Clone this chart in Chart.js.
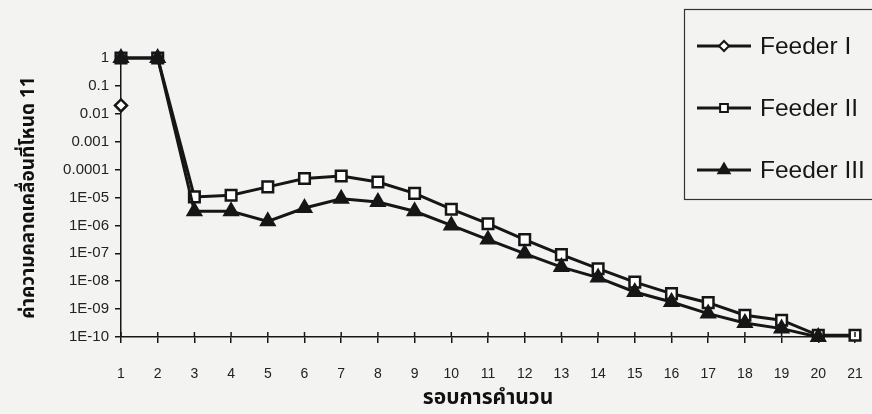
<!DOCTYPE html>
<html>
<head>
<meta charset="utf-8">
<script src="https://cdn.jsdelivr.net/npm/chart.js@4/dist/chart.umd.min.js"></script>
<style>
    html, body { margin: 0; padding: 0; background: #f3f3f1; }
    #wrap { position: relative; width: 872px; height: 414px; }
</style>
</head>
<body>
<div id="wrap"><canvas id="errChart" width="872" height="414"></canvas></div>
<script>
// iterations on the x axis
const iterations = ['1', '2', '3', '4', '5', '6', '7', '8', '9', '10', '11',
    '12', '13', '14', '15', '16', '17', '18', '19', '20', '21'];

// error at node 11, per feeder
const feeder1 = [0.02, null, null, null, null, null, null, null, null, null, null,
    null, null, null, null, null, null, null, null, null, null];
const feeder2 = [1, 1, 1.05e-5, 1.2e-5, 2.4e-5, 4.8e-5, 5.9e-5, 3.6e-5, 1.4e-5, 3.8e-6, 1.15e-6,
    3.1e-7, 9e-8, 2.8e-8, 9.3e-9, 3.6e-9, 1.7e-9, 6e-10, 4e-10, 1.15e-10, 1.15e-10];
const feeder3 = [1, 1, 3.2e-6, 3.2e-6, 1.4e-6, 4.2e-6, 9e-6, 6.9e-6, 3.2e-6, 1e-6, 3.1e-7,
    9.8e-8, 3.2e-8, 1.35e-8, 4.1e-9, 1.8e-9, 6.9e-10, 3.2e-10, 2e-10, 1e-10, null];

// y axis ticks (ascending) and how they are printed
const yTicks = [1e-10, 1e-9, 1e-8, 1e-7, 1e-6, 1e-5, 1e-4, 1e-3, 1e-2, 1e-1, 1];
const yTickLabels = ['1E-10', '1E-09', '1E-08', '1E-07', '1E-06', '1E-05',
    '0.0001', '0.001', '0.01', '0.1', '1'];

const INK = '#161616';
const THAI_FONT = "'Noto Sans Thai', 'Loma', 'Tahoma', 'DejaVu Sans', sans-serif";

// short tick stubs above the x axis (ticks cross the axis in the original)
const crossTicks = {
    id: 'crossTicks',
    afterDraw(chart) {
        const ctx = chart.ctx;
        const xs = chart.scales.x;
        const y = chart.chartArea.bottom;
        ctx.save();
        ctx.strokeStyle = INK;
        ctx.lineWidth = 1.5;
        xs.ticks.forEach((t, i) => {
            const x = xs.getPixelForTick(i);
            ctx.beginPath();
            ctx.moveTo(x, y - 5);
            ctx.lineTo(x, y);
            ctx.stroke();
        });
        ctx.restore();
    }
};

// boxed legend in the top right corner
const boxLegend = {
    id: 'boxLegend',
    afterDraw(chart) {
        const ctx = chart.ctx;
        const rowsY = [46, 108, 170];
        const sizes = { rectRot: 5, rect: 5.5, triangle: 6.5 };
        ctx.save();
        ctx.strokeStyle = '#333';
        ctx.lineWidth = 1.2;
        ctx.strokeRect(684.5, 9.5, 200, 190);
        chart.data.datasets.forEach((ds, i) => {
            const y = rowsY[i];
            ctx.strokeStyle = INK;
            ctx.lineWidth = 3;
            ctx.beginPath();
            ctx.moveTo(697, y);
            ctx.lineTo(751, y);
            ctx.stroke();
            ctx.fillStyle = ds.pointBackgroundColor;
            ctx.lineWidth = 2;
            Chart.helpers.drawPoint(ctx, {
                pointStyle: ds.pointStyle, rotation: 0,
                radius: sizes[ds.pointStyle], borderWidth: 2
            }, 724, y);
            ctx.fillStyle = INK;
            ctx.font = "24.5px 'Liberation Sans', Arial, sans-serif";
            ctx.textBaseline = 'middle';
            ctx.textAlign = 'left';
            ctx.fillText(ds.label, 760, y + 1);
        });
        ctx.restore();
    }
};

function seriesStyle(label, data, pointStyle, radius, fill, order) {
    return {
        label: label,
        data: data,
        borderColor: INK,
        borderWidth: 3,
        pointStyle: pointStyle,
        pointRadius: radius,
        pointHoverRadius: radius,
        pointBorderWidth: 2.5,
        pointBorderColor: INK,
        pointBackgroundColor: fill,
        spanGaps: false,
        tension: 0,
        clip: false,
        order: order
    };
}

new Chart(document.getElementById('errChart'), {
    type: 'line',
    data: {
        labels: iterations,
        datasets: [
            seriesStyle('Feeder I', feeder1, 'rectRot', 6, '#ffffff', 2),
            seriesStyle('Feeder II', feeder2, 'rect', 7.5, '#ffffff', 1),
            seriesStyle('Feeder III', feeder3, 'triangle', 7.5, INK, 0)
        ]
    },
    options: {
        responsive: false,
        animation: false,
        devicePixelRatio: 1,
        layout: { padding: { top: 58, right: 17, left: 0, bottom: 0 } },
        plugins: {
            legend: { display: false },
            tooltip: { enabled: false }
        },
        scales: {
            x: {
                type: 'category',
                offset: false,
                afterFit: (s) => {
                    s.height = 77;
                    // the big label padding below must not eat the sides
                    s.paddingLeft = 0;
                    s.paddingRight = 0;
                },
                border: { color: INK, width: 1.5 },
                grid: { drawOnChartArea: false, color: INK, lineWidth: 1.5, tickLength: 6 },
                ticks: {
                    color: '#222',
                    padding: 23,
                    maxRotation: 0,
                    autoSkip: false,
                    font: { family: "'Liberation Sans Narrow', 'Liberation Sans', Arial, sans-serif", size: 14 }
                },
                title: {
                    display: true,
                    text: 'รอบการคำนวน',
                    color: '#111',
                    font: { family: THAI_FONT, size: 21, weight: 'bold' },
                    padding: { top: 0, bottom: 2 }
                }
            },
            y: {
                type: 'logarithmic',
                min: 1e-10,
                max: 1,
                afterFit: (s) => { s.width = 121; },
                afterBuildTicks: (s) => { s.ticks = yTicks.map(v => ({ value: v, major: true })); },
                border: { color: INK, width: 1.5 },
                grid: { drawOnChartArea: false, color: INK, lineWidth: 1.5, tickLength: 6 },
                ticks: {
                    color: '#222',
                    padding: 6,
                    autoSkip: false,
                    font: { family: "'Liberation Sans', Arial, sans-serif", size: 15 },
                    callback: (value, index) => yTickLabels[index]
                },
                title: {
                    display: true,
                    text: 'ค่าความคลาดเคลื่อนที่โหนด 11',
                    color: '#111',
                    font: { family: THAI_FONT, size: 19, weight: 'bold' },
                    padding: { top: 19, bottom: 0 }
                }
            }
        }
    },
    plugins: [crossTicks, boxLegend]
});
</script>
</body>
</html>
